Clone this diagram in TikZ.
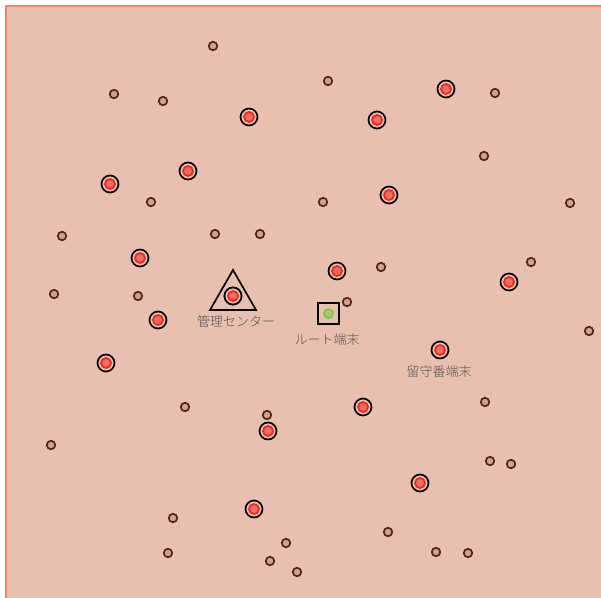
\documentclass[tikz,border=0pt]{standalone}
\usepackage{fontspec}
\newfontfamily\cjk{Noto Sans CJK JP Light}
\definecolor{bgc}{RGB}{233,192,176}
\definecolor{edgec}{RGB}{240,135,95}
\definecolor{brownring}{RGB}{85,38,20}
\definecolor{brownfill}{RGB}{210,160,140}
\definecolor{redring}{RGB}{240,40,30}
\definecolor{redfill}{RGB}{240,110,95}
\definecolor{greenring}{RGB}{110,210,40}
\definecolor{greenfill}{RGB}{200,180,150}
\definecolor{labelc}{RGB}{85,80,78}
\tikzset{
  smallnode/.style={circle,draw=brownring,line width=1.7pt,fill=brownfill,minimum size=8.5pt,inner sep=0pt},
  bigouter/.style={circle,draw=black,line width=1.7pt,fill=bgc,minimum size=17pt,inner sep=0pt},
  bigred/.style={circle,draw=redring,line width=1.8pt,fill=redfill,minimum size=10pt,inner sep=0pt},
  greennode/.style={circle,draw=greenring,line width=1.8pt,fill=greenfill,minimum size=9pt,inner sep=0pt},
  lbl/.style={font=\cjk\fontsize{13pt}{15pt}\selectfont,text=labelc,inner sep=0pt},
}
\begin{document}
\begin{tikzpicture}[x=1pt,y=-1pt]
\useasboundingbox (0,0) rectangle (601,597);
\fill[bgc] (6,6) rectangle (610,610);
\draw[edgec,line width=1.2pt] (6,610) -- (6,6) -- (610,6);
% small nodes
\foreach \x/\y [count=\i] in {213/46,114/94,163/101,328/81,495/93,484/156,151/202,323/202,570/203,62/236,215/234,260/234,381/267,531/262,54/294,138/296,347/302,589/331,185/407,267/415,485/402,51/445,490/461,511/464,173/518,168/553,286/543,270/561,297/572,388/532,436/552,468/553}
  \node[smallnode] (s\i) at (\x,\y) {};
% red nodes
\foreach \x/\y [count=\i] in {249/117,377/120,446/89,110/184,188/171,389/195,140/258,337/271,509/282,158/320,233/296,106/363,440/350,363/407,268/431,420/483,254/509}
  {\node[bigouter] (r\i) at (\x,\y) {};
   \node[bigred] (rr\i) at (\x,\y) {};}
% management center triangle
\coordinate (ta) at (233,270);
\coordinate (tb) at (210,310);
\coordinate (tc) at (256,310);
\draw[line width=1.7pt,line join=miter] (ta) -- (tb) -- (tc) -- cycle;
\node[bigouter] (mc) at (233,296) {};
\node[bigred] (mcr) at (233,296) {};
% root terminal
\node[draw=black,line width=2pt,fill=bgc,minimum size=21pt,inner sep=0pt] (rootbox) at (328.5,313.5) {};
\node[greennode] (root) at (328.5,313.5) {};
% labels
\node[lbl] (l1) at (236,322) {管理センター};
\node[lbl] (l2) at (327,340) {ルート端末};
\node[lbl] (l3) at (439,372) {留守番端末};
\end{tikzpicture}
\end{document}
